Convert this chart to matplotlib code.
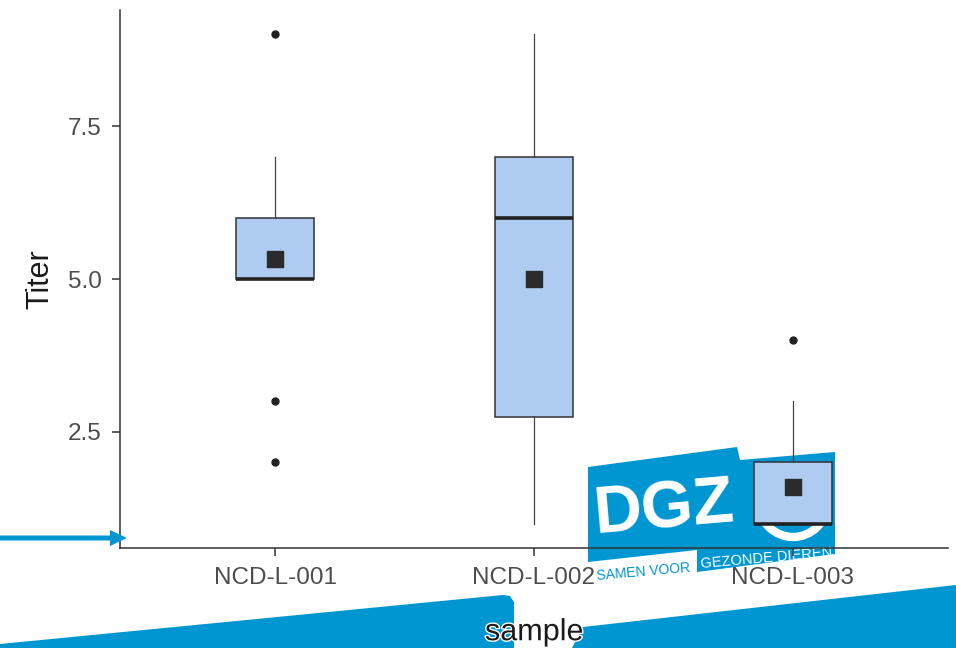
import matplotlib
matplotlib.use("Agg")
import matplotlib.pyplot as plt
from matplotlib.patches import Polygon, Circle
import matplotlib.patheffects as pe

plt.rcParams['font.family'] = ['Liberation Sans', 'DejaVu Sans']

# summary statistics per sample
samples = ["NCD-L-001", "NCD-L-002", "NCD-L-003"]
q1 = [5.0, 2.75, 1.0]
medians = [5.0, 6.0, 1.0]
q3 = [6.0, 7.0, 2.0]
whisk_lo = [5.0, 1.0, 1.0]
whisk_hi = [7.0, 9.0, 3.0]
outliers = [[9.0, 3.0, 2.0], [], [4.0]]
means = [5.33, 5.0, 1.6]

W, H = 956, 648
BLUE = "#0096d2"


def px(x, y):
    # pixel position (origin top-left) -> figure fraction
    return (x / W, 1 - y / H)


def poly(points, **kw):
    return Polygon([px(x, y) for x, y in points], closed=True,
                   transform=fig.transFigure, **kw)


fig = plt.figure(figsize=(W / 100, H / 100), dpi=100)
fig.patch.set_facecolor("white")

# slide decoration behind the chart
fig.add_artist(poly([(0, 648), (0, 644), (503, 595), (510, 596), (514, 602), (514, 648)],
                    facecolor=BLUE, edgecolor="none", zorder=-5))
fig.add_artist(poly([(572, 648), (583, 627), (956, 585), (956, 648)],
                    facecolor=BLUE, edgecolor="none", zorder=-5))

# logo
fig.add_artist(poly([(588, 467), (737, 447), (740, 460), (835, 452), (835, 554),
                     (697, 572), (697, 550), (588, 562)],
                    facecolor=BLUE, edgecolor="none", zorder=-4))
fig.text(*px(664, 510), "DGZ", color="white", fontsize=48, fontweight="bold",
         family=["Liberation Sans Narrow", "Liberation Sans"], rotation=5,
         ha="center", va="center", zorder=-3)
fig.add_artist(Circle((793, H - 503), 34, transform=None, fill=False,
                      edgecolor="white", linewidth=6, zorder=-3))
fig.text(*px(643, 572), "SAMEN VOOR", color=BLUE, fontsize=10, rotation=5,
         ha="center", va="center", zorder=-3)
fig.text(*px(766, 558), "GEZONDE DIEREN", color="white", fontsize=10.5, rotation=5,
         ha="center", va="center", zorder=-3)

ax = fig.add_axes([120 / W, 1 - 548 / H, (948 - 120) / W, (548 - 10) / H])
ax.patch.set_alpha(0)

stats = []
for i in range(len(samples)):
    stats.append(dict(med=medians[i], q1=q1[i], q3=q3[i], whislo=whisk_lo[i],
                      whishi=whisk_hi[i], fliers=outliers[i], label=samples[i]))

pos = [1, 2, 3]
ax.bxp(stats, positions=pos, widths=0.3, showcaps=False, patch_artist=True,
       boxprops=dict(facecolor="#aecbf1", edgecolor="#333333", linewidth=1.1),
       medianprops=dict(color="#222222", linewidth=2.6),
       whiskerprops=dict(color="#444444", linewidth=0.9),
       flierprops=dict(marker="o", markerfacecolor="#222222", markeredgecolor="#222222",
                       markersize=5))
ax.scatter(pos, means, marker="s", s=130, color="#2b2b2b", zorder=5)

ax.set_xlim(0.4, 3.6)
ax.set_ylim(0.6, 9.4)
ax.set_yticks([2.5, 5.0, 7.5])
ax.set_yticklabels(["2.5", "5.0", "7.5"])
ax.set_xticks(pos)
ax.set_xticklabels(samples)

for s in ["top", "right"]:
    ax.spines[s].set_visible(False)
for s in ["left", "bottom"]:
    ax.spines[s].set_color("#333333")
    ax.spines[s].set_linewidth(1.1)

ax.tick_params(axis="both", length=6, width=1.1, color="#333333",
               labelsize=17.5, labelcolor="#4d4d4d")
ax.tick_params(axis="x", pad=8)
ax.tick_params(axis="y", pad=7)

ax.set_xlabel("sample", fontsize=22, color="#1a1a1a", labelpad=20,
              path_effects=[pe.withStroke(linewidth=2, foreground="white")])
ax.set_ylabel("Titer", fontsize=22, color="#1a1a1a", labelpad=9)

# arrow pointing at the y axis
fig.add_artist(poly([(0, 535.5), (110, 535.5), (110, 530), (127, 538), (110, 546),
                     (110, 540.5), (0, 540.5)],
                    facecolor=BLUE, edgecolor="none", zorder=10))

fig.savefig("out.png", dpi=100)
